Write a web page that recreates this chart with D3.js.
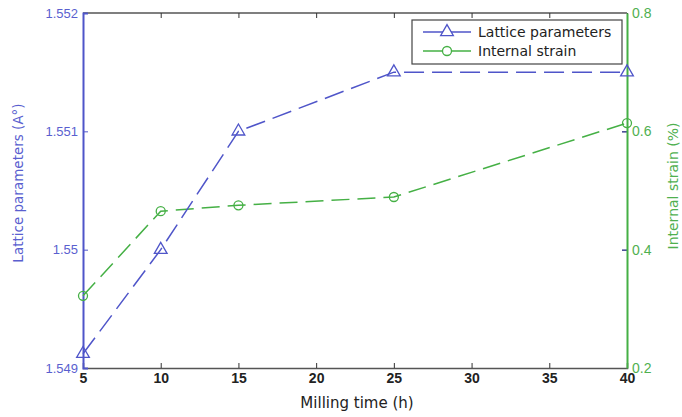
<!DOCTYPE html>
<html><head><meta charset="utf-8">
<script src="https://cdn.jsdelivr.net/npm/d3@7"></script>
<style>body{margin:0;background:#fff;}svg{display:block;font-family:"DejaVu Sans",sans-serif;}</style>
</head><body>
<script>
const millingTime = [5, 10, 15, 25, 40];
const latticeParams = [1.54912, 1.5500, 1.5510, 1.5515, 1.5515];
const internalStrain = [0.322, 0.465, 0.475, 0.489, 0.614];
const xTicks = [5, 10, 15, 20, 25, 30, 35, 40];
const leftTicks = [1.549, 1.55, 1.551, 1.552];
const leftTickLabels = ["1.549", "1.55", "1.551", "1.552"];
const rightTicks = [0.2, 0.4, 0.6, 0.8];
const seriesNames = ["Lattice parameters", "Internal strain"];

const W = 682, H = 417;
const m = {l: 83, r: 55, t: 13, b: 49};
const blue = "#4f55c9", green = "#45b045";
const svg = d3.select("body").append("svg").attr("width", W).attr("height", H);
const x = d3.scaleLinear().domain([5, 40]).range([m.l, W - m.r]);
const yL = d3.scaleLinear().domain([1.549, 1.552]).range([H - m.b, m.t]);
const yR = d3.scaleLinear().domain([0.2, 0.8]).range([H - m.b, m.t]);
const x0 = m.l, x1 = W - m.r, y0 = H - m.b, y1 = m.t;

// box top
svg.append("line").attr("x1", x0).attr("x2", x1).attr("y1", y1).attr("y2", y1).attr("stroke", "#555").attr("stroke-width", 1.5);
// bottom axis
const gx = svg.append("g").attr("transform", `translate(0,${y0})`)
  .call(d3.axisBottom(x).tickValues(xTicks).tickSize(-5).tickPadding(5).tickFormat(d3.format("d")));
gx.select(".domain").attr("stroke", "#555").attr("stroke-width", 1.5);
gx.selectAll(".tick line").attr("stroke", "#333");
gx.selectAll("text").attr("font-family", "Liberation Sans, Arial, sans-serif")
  .attr("font-size", 14).attr("font-weight", "bold").attr("fill", "#222");
// top ticks
svg.append("g").attr("transform", `translate(0,${y1})`)
  .call(d3.axisTop(x).tickValues(xTicks).tickSize(-5).tickFormat(""))
  .call(g => { g.select(".domain").remove(); g.selectAll(".tick line").attr("stroke", "#333"); });

// left axis
const gl = svg.append("g").attr("transform", `translate(${x0},0)`)
  .call(d3.axisLeft(yL).tickValues(leftTicks).tickSize(-5).tickPadding(5).tickFormat((d, i) => leftTickLabels[i]));
gl.select(".domain").attr("stroke", blue).attr("stroke-width", 2);
gl.selectAll(".tick line").attr("stroke", blue);
gl.selectAll("text").attr("font-size", 13).attr("fill", "#5a5fcf");
// mirrored left ticks on right side
svg.append("g").attr("transform", `translate(${x1},0)`)
  .call(d3.axisRight(yL).tickValues(leftTicks.slice(1, 3)).tickSize(-5).tickFormat(""))
  .call(g => { g.select(".domain").remove(); g.selectAll(".tick line").attr("stroke", "#3a3f8f").attr("stroke-width", 1.5); });

// right axis
const gr = svg.append("g").attr("transform", `translate(${x1},0)`)
  .call(d3.axisRight(yR).tickValues(rightTicks).tickSize(0).tickPadding(5).tickFormat(d3.format(".1f")));
gr.select(".domain").attr("stroke", green).attr("stroke-width", 2);
gr.selectAll("text").attr("font-size", 14).attr("fill", "#4fb04f");

// titles
svg.append("text").attr("x", (x0 + x1) / 2 + 2).attr("y", 408).attr("text-anchor", "middle")
  .attr("font-size", 15).attr("fill", "#222").text("Milling time (h)");
svg.append("text").attr("transform", `translate(23,183) rotate(-90)`).attr("text-anchor", "middle")
  .attr("font-size", 13.5).attr("fill", "#5a5fcf").text("Lattice parameters (A°)");
svg.append("text").attr("transform", `translate(678,186) rotate(-90)`).attr("text-anchor", "middle")
  .attr("font-size", 14).attr("fill", "#4fb04f").text("Internal strain (%)");

// lines
const lineL = d3.line().x((d, i) => x(millingTime[i])).y(d => yL(d));
const lineR = d3.line().x((d, i) => x(millingTime[i])).y(d => yR(d));
svg.append("path").attr("d", lineR(internalStrain)).attr("fill", "none").attr("stroke", green)
  .attr("stroke-width", 1.5).attr("stroke-dasharray", "18,8");
svg.append("path").attr("d", lineL(latticeParams)).attr("fill", "none").attr("stroke", blue)
  .attr("stroke-width", 1.5).attr("stroke-dasharray", "20,8");
const tri = d3.symbol().type(d3.symbolTriangle).size(70);
svg.selectAll(".tri").data(latticeParams).join("path")
  .attr("transform", (d, i) => `translate(${x(millingTime[i])},${yL(d)})`)
  .attr("d", tri).attr("fill", "none").attr("stroke", blue).attr("stroke-width", 1.3);
svg.selectAll(".circ").data(internalStrain).join("circle")
  .attr("cx", (d, i) => x(millingTime[i])).attr("cy", d => yR(d)).attr("r", 4.5)
  .attr("fill", "none").attr("stroke", green).attr("stroke-width", 1.3);

// legend
const lg = svg.append("g");
lg.append("rect").attr("x", 412).attr("y", 20).attr("width", 210).attr("height", 44)
  .attr("fill", "#fff").attr("stroke", "#444").attr("stroke-width", 1.2);
const legColors = [blue, green];
seriesNames.forEach((n, i) => {
  const yy = 32 + i * 19;
  lg.append("line").attr("x1", 423).attr("x2", 471).attr("y1", yy).attr("y2", yy).attr("stroke", legColors[i]).attr("stroke-width", 1.5);
  if (i === 0) lg.append("path").attr("transform", `translate(447,${yy})`).attr("d", tri).attr("fill", "#fff").attr("stroke", blue).attr("stroke-width", 1.3);
  else lg.append("circle").attr("cx", 447).attr("cy", yy).attr("r", 4.5).attr("fill", "#fff").attr("stroke", green).attr("stroke-width", 1.3);
  lg.append("text").attr("x", 478).attr("y", yy + 5).attr("font-size", 14).attr("fill", "#222").text(n);
});
</script>
</body></html>
